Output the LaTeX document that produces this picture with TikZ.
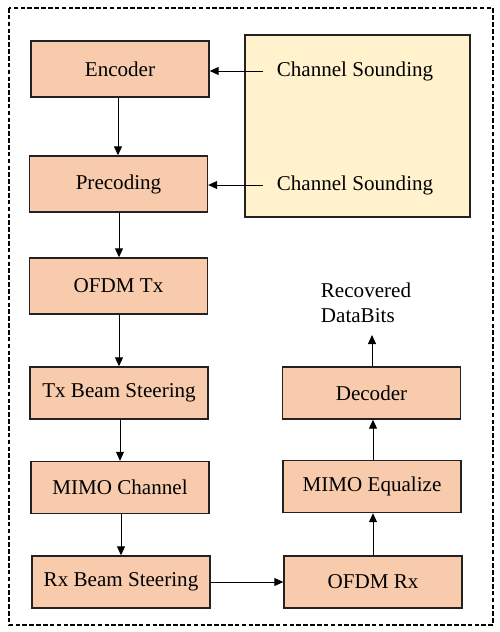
\documentclass[tikz,border=0pt]{standalone}
\usepackage{fontspec}
\setmainfont{Liberation Serif}
\usetikzlibrary{arrows.meta}

\definecolor{blockfill}{HTML}{F8CBAD}
\definecolor{soundfill}{HTML}{FFF2CC}
\definecolor{edge}{HTML}{222222}

\tikzset{
  block/.style={draw=edge,line width=0.8pt,fill=blockfill,minimum width=3.56cm,
    minimum height=1.04cm,inner sep=0pt,font=\rmfamily\fontsize{12}{14.5}\selectfont},
  tall/.style={minimum height=1.12cm},
  plain/.style={inner sep=1pt,font=\rmfamily\fontsize{12}{14.5}\selectfont},
  arr/.style={line width=0.55pt,-{Triangle[length=1.8mm,width=1.6mm]}}
}

\begin{document}
\begin{tikzpicture}[x=0.02cm,y=-0.02cm]

    % page size = reference (500 x 632 px)
    \useasboundingbox (0,0) rectangle (500,632);

    %==========================
    % Outer frame
    %==========================
    \draw[line width=0.7pt,dash pattern=on 2.6pt off 1.3pt] (9,8) rectangle (493,625);

    %==========================
    % Channel sounding panel
    %==========================
    \draw[draw=edge,line width=0.8pt,fill=soundfill] (245,35) rectangle (470,217);
    \node[plain] (snd1) at (355,71) {Channel Sounding};
    \node[plain] (snd2) at (355,185) {Channel Sounding};
    \coordinate (snd1in) at (263,71);
    \coordinate (snd2in) at (263,185);

    %==========================
    % Transmit chain (left)
    %==========================
    \node[block,tall] (enc)    at (120,69)    {Encoder};
    \node[block,tall] (prec)   at (118.5,184) {Precoding};
    \node[block,tall] (ofdmtx) at (118.5,286) {OFDM Tx};
    \node[block]      (txbs)   at (119,393)   {Tx Beam Steering};
    \node[block]      (mimoch) at (120,487.5) {MIMO Channel};
    \node[block]      (rxbs)   at (121,582)   {Rx Beam Steering};

    %==========================
    % Receive chain (right)
    %==========================
    \node[block] (ofdmrx) at (373,582)   {OFDM Rx};
    \node[block] (mimoeq) at (372,486.5) {MIMO Equalize};
    \node[block] (dec)    at (371.5,393) {Decoder};
    \node[plain,align=left] (bits) at (366,303) {Recovered\\DataBits};
    \coordinate (bitsin) at (372,335);

    % connectors
    \draw[arr] (snd1in) -- (snd1in -| enc.east);
    \draw[arr] (snd2in) -- (snd2in -| prec.east);
    \draw[arr] (enc.south -| 118,0) -- (prec.north -| 118,0);
    \draw[arr] (prec.south -| 119,0) -- (ofdmtx.north -| 119,0);
    \draw[arr] (ofdmtx.south -| 119,0) -- (txbs.north -| 119,0);
    \draw[arr] (txbs.south -| 120,0) -- (mimoch.north -| 120,0);
    \draw[arr] (mimoch.south -| 121,0) -- (rxbs.north -| 121,0);
    \draw[arr] (rxbs.east) -- (ofdmrx.west);
    \draw[arr] (ofdmrx.north -| 373,0) -- (mimoeq.south -| 373,0);
    \draw[arr] (mimoeq.north -| 373,0) -- (dec.south -| 373,0);
    \draw[arr] (dec.north -| 372,0) -- (bitsin);

\end{tikzpicture}
\end{document}
